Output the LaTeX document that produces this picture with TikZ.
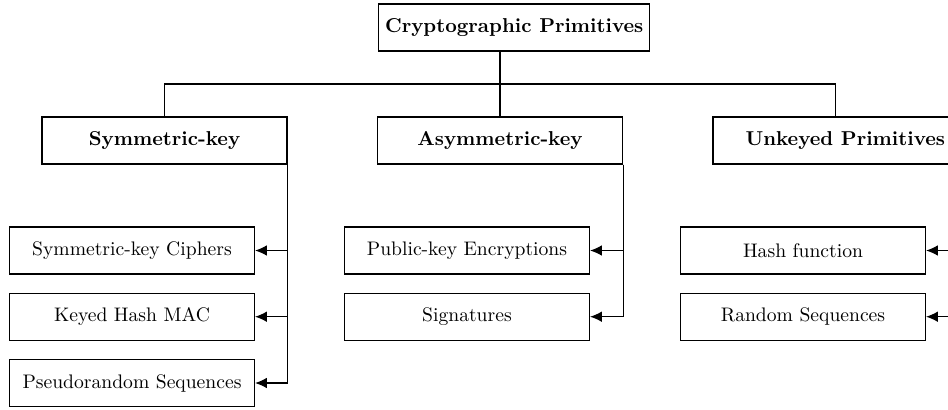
\documentclass[tikz,border=0pt]{standalone}
\usetikzlibrary{arrows.meta}
\begin{document}
\begin{tikzpicture}[x=0.51pt,y=-0.51pt,
  box/.style={draw,line width=0.6pt,rectangle,minimum height=23.97pt,inner sep=3.3pt,font=\fontsize{10}{12}\selectfont},
  wbox/.style={box,minimum width=124.95pt},
  head/.style={box,font=\fontsize{10.25}{12}\selectfont\bfseries},
  wire/.style={line width=0.6pt},
  arr/.style={wire,-{Latex[length=6pt,width=5.4pt]}}]
\useasboundingbox (0,0) rectangle (948,409);
\clip (0,0) rectangle (948,409);
\node[head,anchor=west] (top) at (378,27.5) {Cryptographic Primitives};
\node[head,minimum width=124.95pt] (sym) at (164.5,140.5) {Symmetric-key};
\node[head,minimum width=124.95pt] (asym) at (500,140.5) {Asymmetric-key};
\node[head,minimum width=124.95pt] (unk) at (835.5,140.5) {\hspace*{10pt}Unkeyed Primitives};
\node[wbox] (sc) at (132,250.5) {Symmetric-key Ciphers};
\node[wbox] (kh) at (132,316.7) {Keyed Hash MAC};
\node[wbox] (ps) at (132,383) {Pseudorandom Sequences};
\node[wbox] (pk) at (467,250.5) {Public-key Encryptions};
\node[wbox] (sg) at (467,316.7) {Signatures};
\node[wbox] (hf) at (803,250.5) {Hash function};
\node[wbox] (rs) at (803,316.7) {Random Sequences};
\coordinate (bus) at (500,84);
\draw[wire] (top.south -| asym.north) -- (asym.north);
\draw[wire] (sym.north) |- (bus) -| (unk.north);
\draw[arr] (sym.south east) |- (sc.east);
\draw[arr] (sym.south east) |- (kh.east);
\draw[arr] (sym.south east) |- (ps.east);
\draw[arr] (asym.south east) |- (pk.east);
\draw[arr] (asym.south east) |- (sg.east);
\draw[arr] (unk.south east) |- (hf.east);
\draw[arr] (unk.south east) |- (rs.east);
\end{tikzpicture}
\end{document}
